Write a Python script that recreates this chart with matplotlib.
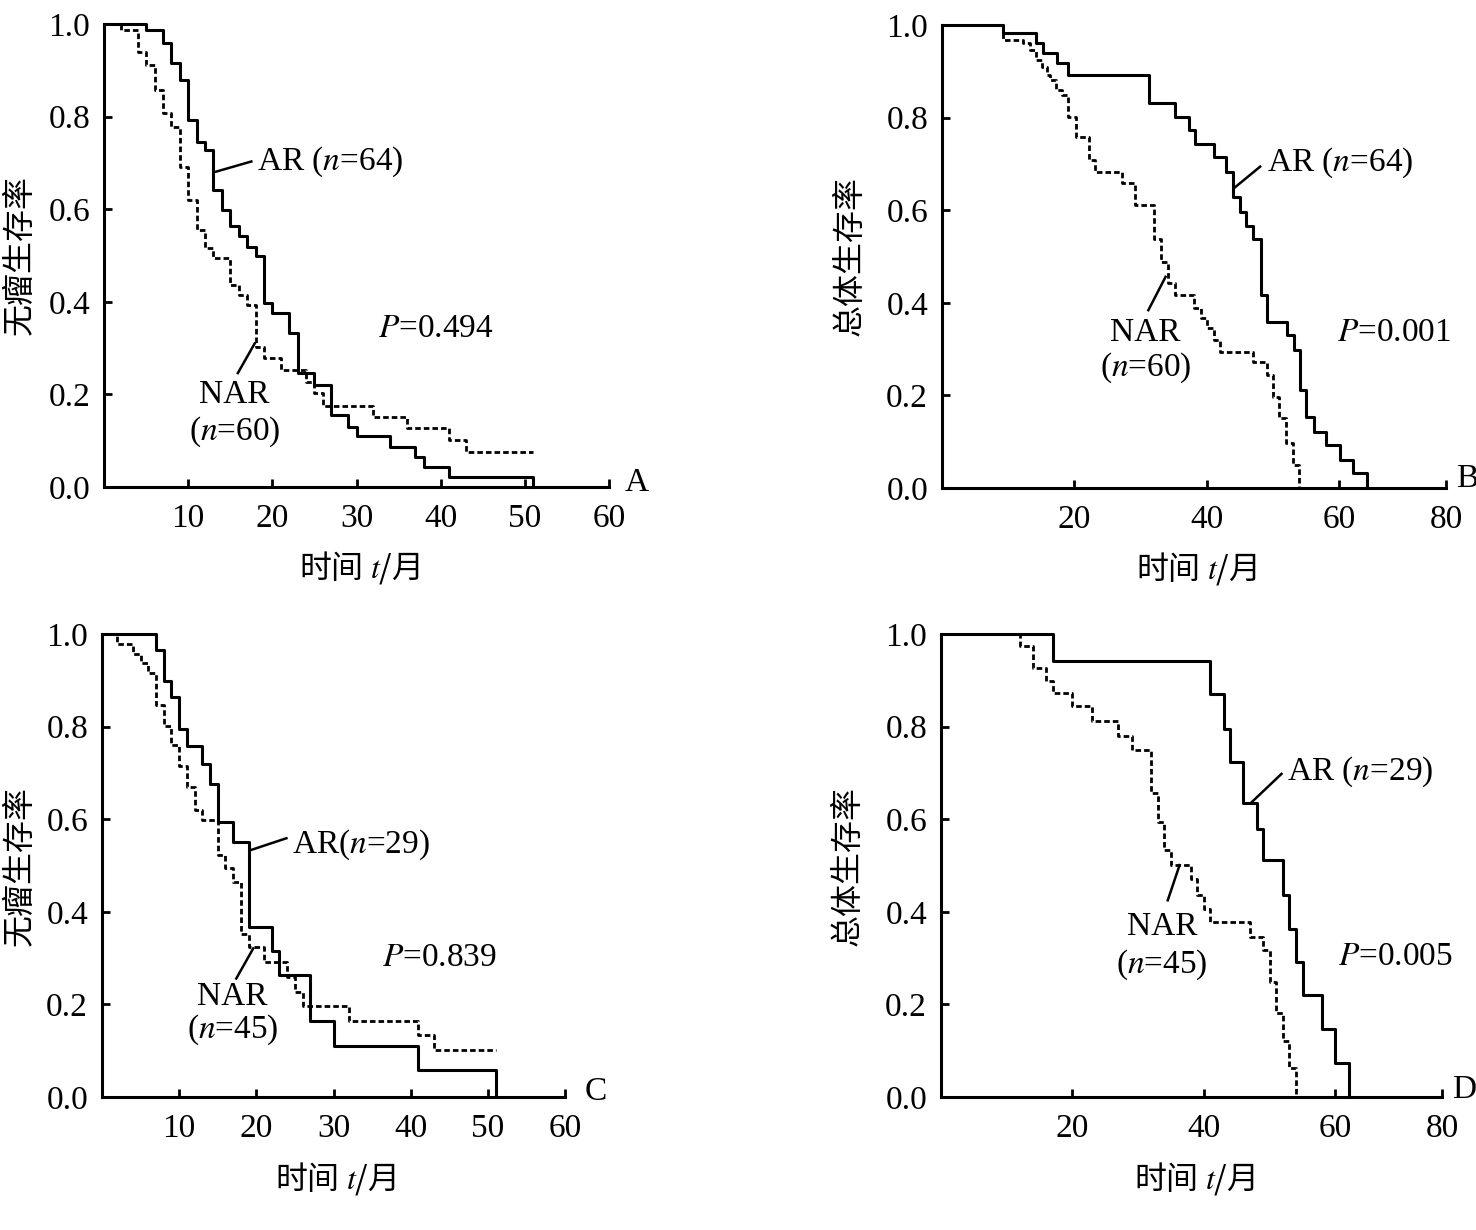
"""
plot.py
=======
Kaplan-Meier curves (AR vs NAR), four panels A-D.
"""

import matplotlib
matplotlib.use("Agg")
import matplotlib.pyplot as plt

# ── fonts ────────────────────────────────────────────────────────────────────
plt.rcParams["font.family"] = ["Liberation Serif", "Noto Sans CJK SC", "DejaVu Sans"]
plt.rcParams["mathtext.fontset"] = "stix"
CJK = "Noto Sans CJK SC"

# ---------------------------------------------------------------------------
# Data
# ---------------------------------------------------------------------------

# A: disease-free survival, AR n=64 vs NAR n=60
a_ar_t = [0, 5, 7, 8, 9, 10, 11, 12, 13, 14, 15, 16, 17, 18, 19, 20, 22, 23,
          25, 27, 29, 30, 34, 37, 38, 41, 51]
a_ar_s = [1.0, 0.987, 0.958, 0.915, 0.879, 0.793, 0.746, 0.728, 0.642, 0.599,
          0.563, 0.541, 0.519, 0.498, 0.397, 0.376, 0.332, 0.246, 0.221, 0.156,
          0.130, 0.109, 0.087, 0.065, 0.043, 0.022, 0.0]
a_nar_t = [0, 2, 4, 5, 6, 7, 8, 9, 10, 11, 12, 13, 15, 16, 17, 18, 19, 21, 24,
           25, 26, 32, 36, 41, 43, 51]
a_nar_s = [1.0, 0.987, 0.940, 0.912, 0.858, 0.807, 0.778, 0.692, 0.620, 0.555,
           0.516, 0.494, 0.437, 0.415, 0.394, 0.302, 0.278, 0.252, 0.226, 0.202,
           0.175, 0.152, 0.127, 0.101, 0.076, 0.076]

# B: overall survival, AR n=64 vs NAR n=60
b_ar_t = [0, 9.2, 14.2, 15.3, 17.4, 19.1, 31.3, 35.3, 37.3, 38.3, 41.1, 43, 44,
          45, 46, 47, 48.2, 49.1, 52.1, 53.2, 54.1, 55.1, 56.2, 58.1, 60.1,
          62.2, 64.2]
b_ar_s = [1.0, 0.982, 0.960, 0.940, 0.918, 0.892, 0.831, 0.802, 0.774, 0.743,
          0.714, 0.683, 0.629, 0.597, 0.566, 0.537, 0.417, 0.359, 0.330, 0.298,
          0.212, 0.154, 0.120, 0.093, 0.060, 0.033, 0.0]
b_nar_t = [0, 9.2, 12.3, 13.3, 14.2, 15.1, 15.9, 16.4, 17.3, 18.1, 19.1, 20.3,
           22.2, 23.2, 27.2, 29.2, 32.1, 33.1, 34.2, 35.2, 38.1, 39.1, 40.1,
           41.1, 42.1, 47.0, 49.1, 50.1, 51.0, 52.0, 53.0, 54.0]
b_nar_s = [1.0, 0.968, 0.960, 0.947, 0.925, 0.910, 0.892, 0.881, 0.860, 0.849,
           0.802, 0.758, 0.708, 0.683, 0.658, 0.611, 0.537, 0.488, 0.443, 0.416,
           0.389, 0.368, 0.345, 0.320, 0.294, 0.273, 0.244, 0.197, 0.151, 0.097,
           0.050, 0.0]

# C: disease-free survival, AR n=29 vs NAR n=45
c_ar_t = [0, 7, 8, 9, 10, 11, 13, 14, 15, 17, 19, 22, 23, 27, 30, 41, 51]
c_ar_s = [1.0, 0.966, 0.899, 0.865, 0.796, 0.758, 0.719, 0.676, 0.593, 0.551,
          0.368, 0.316, 0.264, 0.165, 0.110, 0.058, 0.0]
c_nar_t = [0, 2, 4, 5, 6, 7, 8, 9, 10, 11, 12, 13, 15, 16, 17, 18, 19, 21, 24,
           25, 26, 32, 41, 43, 51]
c_nar_s = [1.0, 0.978, 0.958, 0.937, 0.915, 0.847, 0.801, 0.760, 0.715, 0.670,
           0.621, 0.598, 0.523, 0.494, 0.465, 0.353, 0.323, 0.292, 0.260, 0.227,
           0.197, 0.164, 0.134, 0.102, 0.102]

# D: overall survival, AR n=29 vs NAR n=45
d_ar_t = [0, 17, 41, 43, 44, 46, 48, 49, 52, 53, 54, 55, 58, 60, 62]
d_ar_s = [1.0, 0.942, 0.870, 0.796, 0.724, 0.636, 0.580, 0.511, 0.436, 0.362,
          0.292, 0.220, 0.148, 0.074, 0.0]
d_nar_t = [0, 12, 14, 16, 17, 20, 23, 27, 29, 32, 33, 34, 35, 38, 39, 40, 41,
           47, 49, 50, 51, 52, 53, 54]
d_nar_s = [1.0, 0.975, 0.926, 0.899, 0.872, 0.844, 0.813, 0.780, 0.750, 0.656,
           0.595, 0.534, 0.501, 0.471, 0.436, 0.407, 0.377, 0.346, 0.317, 0.249,
           0.181, 0.120, 0.062, 0.0]

y_ticks = [0.0, 0.2, 0.4, 0.6, 0.8, 1.0]
y_tick_labels = ["0.0", "0.2", "0.4", "0.6", "0.8", "1.0"]
x_ticks_short = [10, 20, 30, 40, 50, 60]
x_labels_short = ["10", "20", "30", "40", "50", "60"]
x_ticks_long = [20, 40, 60, 76.2]          # last tick sits at the axis end
x_labels_long = ["20", "40", "60", "80"]

ylabel_dfs = "无瘤生存率"
ylabel_os = "总体生存率"
xlabel = "时间 $t$/月"


# ---------------------------------------------------------------------------
# Plotting helpers
# ---------------------------------------------------------------------------

def draw_panel(ax, ar, nar, xmax, xticks, xlabels, ylabel, letter,
               ar_txt, nar_txt, p_txt, ylab_x):
    ax.step(ar[0], ar[1], where="post", color="black", lw=2.2, clip_on=False)
    ax.step(nar[0], nar[1], where="post", color="black", lw=2.0,
            dashes=(2.0, 1.1), clip_on=False)

    ax.set_xlim(0, xmax)
    ax.set_ylim(0, 1.0)
    for s in ("top", "right"):
        ax.spines[s].set_visible(False)
    for s in ("left", "bottom"):
        ax.spines[s].set_linewidth(2.2)
    ax.set_xticks(xticks)
    ax.set_xticklabels(xlabels)
    ax.set_yticks(y_ticks)
    ax.set_yticklabels(y_tick_labels)
    ax.tick_params(direction="in", length=6, width=2, labelsize=24)
    ax.tick_params(axis="x", pad=12)
    ax.tick_params(axis="y", pad=10)

    ax.set_ylabel(ylabel, family=CJK, fontsize=23)
    ax.yaxis.set_label_coords(ylab_x, 0.5)
    ax.set_xlabel(xlabel, family=CJK, fontsize=23)
    ax.xaxis.set_label_coords(0.505, -0.135)

    # annotations: (text, x, y) plus leader line ends
    (t, tx, ty), (l0, l1) = ar_txt
    ax.text(tx, ty, t, fontsize=24, ha="left", va="center")
    ax.plot([l0[0], l1[0]], [l0[1], l1[1]], color="black", lw=1.8)
    (t1, t2, tx, ty1, ty2), (l0, l1) = nar_txt
    ax.text(tx, ty1, t1, fontsize=24, ha="center", va="center")
    ax.text(tx, ty2, t2, fontsize=24, ha="center", va="center")
    ax.plot([l0[0], l1[0]], [l0[1], l1[1]], color="black", lw=1.8)
    ax.text(p_txt[0], p_txt[1], p_txt[2], fontsize=24, ha="left", va="center")
    ax.text(letter[1], letter[2], letter[0], fontsize=24, ha="left",
            va="center", clip_on=False)


# ---------------------------------------------------------------------------
# Main
# ---------------------------------------------------------------------------

def main():
    fig = plt.figure(figsize=(14.76, 12.3), dpi=100)
    ax_a = fig.add_axes([0.0705, 0.6041, 0.3421, 0.3764])
    ax_b = fig.add_axes([0.6382, 0.6033, 0.3415, 0.3764])
    ax_c = fig.add_axes([0.0691, 0.1081, 0.3137, 0.3764])
    ax_d = fig.add_axes([0.6375, 0.1081, 0.3394, 0.3764])

    draw_panel(ax_a, (a_ar_t, a_ar_s), (a_nar_t, a_nar_s), 60,
               x_ticks_short, x_labels_short, ylabel_dfs, ("A", 61.9, 0.01),
               (("AR ($n$=64)", 18.2, 0.702), ((13.3, 0.681), (17.5, 0.703))),
               (("NAR", "($n$=60)", 15.5, 0.199, 0.119),
                ((15.9, 0.246), (17.9, 0.310))),
               (32.5, 0.341, "$P$=0.494"), -0.135)

    draw_panel(ax_b, (b_ar_t, b_ar_s), (b_nar_t, b_nar_s), 76.2,
               x_ticks_long, x_labels_long, ylabel_os, ("B", 77.7, 0.02),
               (("AR ($n$=64)", 49.1, 0.702), ((44.1, 0.647), (48.1, 0.694))),
               (("NAR", "($n$=60)", 30.8, 0.335, 0.259),
                ((31.2, 0.384), (33.8, 0.456))),
               (59.7, 0.335, "$P$=0.001"), -0.151)

    draw_panel(ax_c, (c_ar_t, c_ar_s), (c_nar_t, c_nar_s), 60,
               x_ticks_short, x_labels_short, ylabel_dfs, ("C", 62.6, 0.011),
               (("AR($n$=29)", 24.6, 0.544), ((19.2, 0.533), (23.9, 0.559))),
               (("NAR", "($n$=45)", 16.9, 0.216, 0.145),
                ((17.4, 0.256), (19.6, 0.321))),
               (36.3, 0.300, "$P$=0.839"), -0.143)

    draw_panel(ax_d, (d_ar_t, d_ar_s), (d_nar_t, d_nar_s), 76.2,
               x_ticks_long, x_labels_long, ylabel_os, ("D", 77.7, 0.015),
               (("AR ($n$=29)", 52.6, 0.702), ((47.2, 0.636), (51.8, 0.698))),
               (("NAR", "($n$=45)", 33.6, 0.367, 0.285),
                ((34.5, 0.425), (36.3, 0.501))),
               (60.4, 0.302, "$P$=0.005"), -0.154)

    fig.savefig("out.png", dpi=100, facecolor="white")
    plt.close(fig)


if __name__ == "__main__":
    main()
